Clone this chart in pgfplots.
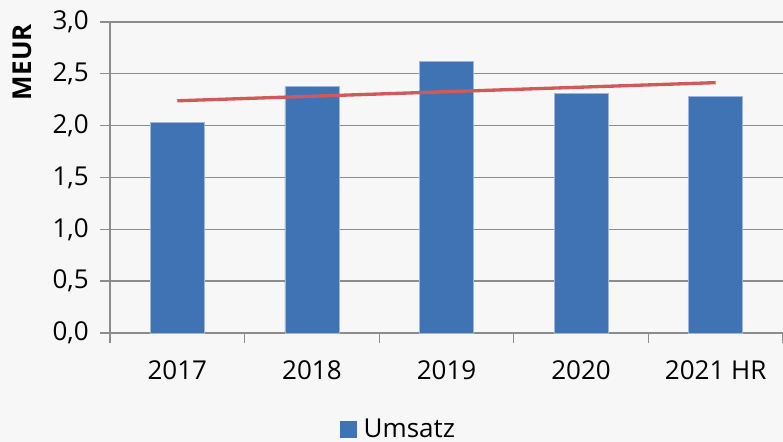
\documentclass[border=0pt]{standalone}
\usepackage{pgfplots}
\pgfplotsset{compat=1.18}
\usepackage{fontspec}
\setmainfont{Open Sans}
\definecolor{bg}{HTML}{F7F7F7}
\definecolor{barblue}{HTML}{3F73B4}
\definecolor{baredge}{HTML}{9DB6DA}
\definecolor{trendred}{HTML}{D05A5A}
\definecolor{gridgray}{HTML}{8C8C8C}
\begin{document}
\begin{tikzpicture}
\fill[bg] (0,0) rectangle (587.25pt,331.5pt);
\useasboundingbox (0,0) rectangle (587.25pt,331.5pt);
\begin{axis}[
  at={(82.5pt,81.75pt)}, anchor=south west,
  scale only axis, width=504.75pt, height=233.25pt,
  xmin=-0.5, xmax=4.5, ymin=0, ymax=3,
  axis line style={draw=gridgray, line width=1pt},
  axis x line*=bottom, axis y line*=left,
  ytick={0,0.5,...,3},
  ymajorgrids, grid style={gridgray, line width=1pt},
  yticklabel={\pgfmathprintnumber[fixed,fixed zerofill,precision=1,use comma]{\tick}},
  /pgf/number format/assume math mode=true,
  xtick={0,1,2,3,4},
  xticklabels={2017,2018,2019,2020,2021 HR},
  minor xtick={-0.5,0.5,1.5,2.5,3.5,4.5},
  major x tick style={draw=none},
  minor x tick style={gridgray, line width=1pt},
  major y tick style={gridgray, line width=1pt},
  tick align=outside,
  major tick length=7.5pt, minor tick length=7.5pt,
  tick label style={font=\fontsize{19.5pt}{22pt}\selectfont, text=black},
  xticklabel style={yshift=-9.5pt},
  yticklabel style={xshift=-5pt},
  ylabel={\textbf{MEUR}},
  ylabel style={font=\fontsize{19.5pt}{22pt}\selectfont, at={(rel axis cs:-0.1308,0.871)}, anchor=center},
  legend style={at={(0.4325,-0.311)}, anchor=center, draw=none, fill=none,
    font=\fontsize{19.5pt}{22pt}\selectfont, inner sep=0pt, nodes={inner xsep=5pt}},
  legend image code/.code={\fill[barblue] (0pt,-6pt) rectangle (12pt,6pt);},
  clip=false,
]
\addplot[ybar, bar width=40.5pt, fill=barblue, draw=baredge, line width=0.4pt]
  coordinates {(0,2.035) (1,2.38) (2,2.62) (3,2.31) (4,2.285)};
\addlegendentry{Umsatz}
\addplot[trendred, line width=2.5pt, forget plot]
  coordinates {(0,2.24) (4,2.415)};
\end{axis}
\end{tikzpicture}
\end{document}
